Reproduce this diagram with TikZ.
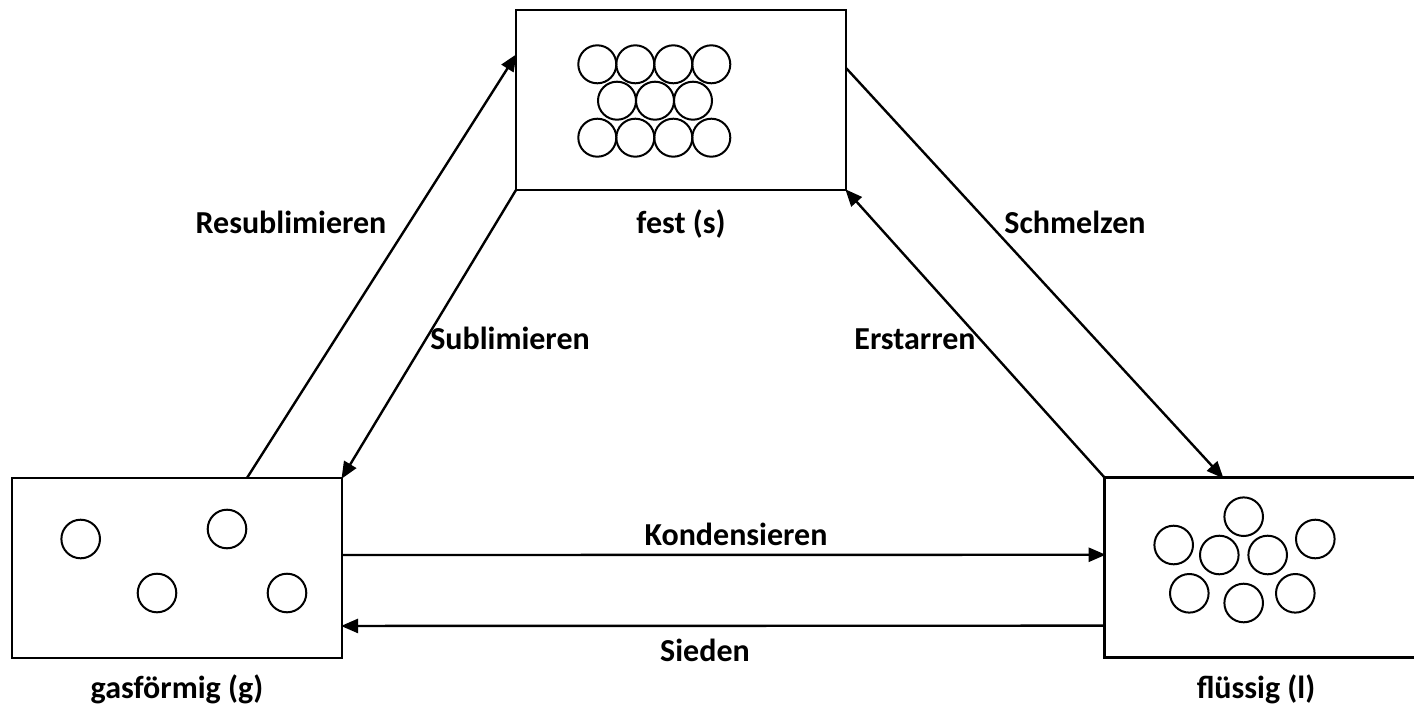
\documentclass[tikz,border=0pt]{standalone}
\usepackage{fontspec}
\setmainfont{Carlito}
\usetikzlibrary{arrows.meta,calc}
\tikzset{
  statebox/.style={draw,line width=2.6pt,minimum width=330pt,minimum height=180pt,inner sep=0pt,outer sep=0pt},
  openbox/.style={minimum width=330pt,minimum height=180pt,inner sep=0pt,outer sep=0pt},
  edge/.style={line width=2.6pt},
  particle/.style={line width=2pt},
  conn/.style={line width=2.4pt,-{Triangle[length=17pt,width=14pt]},shorten >=-1pt},
  lbl/.style={font=\fontsize{32pt}{36pt}\selectfont\bfseries,anchor=base,inner sep=0pt}
}
\begin{document}
\begin{tikzpicture}[x=1pt,y=-1pt]
\useasboundingbox (0,0) rectangle (1414,709);
\fill[white] (0,0) rectangle (1414,709);
% boxes
\node[statebox] (fest) at (681,100) {};
\node[statebox] (gas) at (177,568) {};
\node[openbox] (fl) at (1269.7,567.7) {};
\begin{scope}
\clip (0,0) rectangle (1414,709);
\draw[edge] ([xshift=60pt]fl.north east) -- (fl.north west) -- (fl.south west) -- ([xshift=60pt]fl.south east);
\end{scope}
% particles in solid
\foreach \x in {597.3,635.3,673.3,711.3}{
  \draw[particle] (\x,64.3) circle (19);
  \draw[particle] (\x,137.7) circle (19);
}
\foreach \x in {617,655,693}{
  \draw[particle] (\x,100.7) circle (19);
}
% gas particles
\foreach \p in {(80.7,539),(227,529),(157,593),(287,593)}{
  \draw[particle] \p circle (19.3);
}
% liquid particles
\foreach \p in {(1243.7,516.7),(1173.7,545),(1219.3,555),(1267.7,555),(1315.3,539),(1189.3,593.3),(1243.7,603),(1295.3,593.3)}{
  \draw[particle] \p circle (19.3);
}
% connectors
\draw[conn] ($(gas.north west)!0.712!(gas.north east)$) -- ($(fest.north west)!0.25!(fest.south west)$);
\draw[conn] (fest.south west) -- (gas.north east);
\draw[conn] ($(fest.north east)!0.322!(fest.south east)$) -- ($(fl.north west)!0.358!(fl.north east)$);
\draw[conn] (fl.north west) -- (fest.south east);
\draw[conn] ($(gas.north east)!0.428!(gas.south east)$) -- ($(fl.north west)!0.428!(fl.south west)$);
\draw[conn] ($(fl.north west)!0.822!(fl.south west)$) -- ($(gas.north east)!0.822!(gas.south east)$);
% labels
\node[lbl] (l1) at (291,233) {Resublimieren};
\node[lbl] (l2) at (681,233) {fest (s)};
\node[lbl] (l3) at (1075,233) {Schmelzen};
\node[lbl] (l4) at (510,349) {Sublimieren};
\node[lbl] (l5) at (915,349) {Erstarren};
\node[lbl] (l6) at (736,545) {Kondensieren};
\node[lbl] (l7) at (705,661) {Sieden};
\node[lbl] (l8) at (177,698) {gasförmig (g)};
\node[lbl] (l9) at (1256,698) {flüssig (l)};
\end{tikzpicture}
\end{document}
